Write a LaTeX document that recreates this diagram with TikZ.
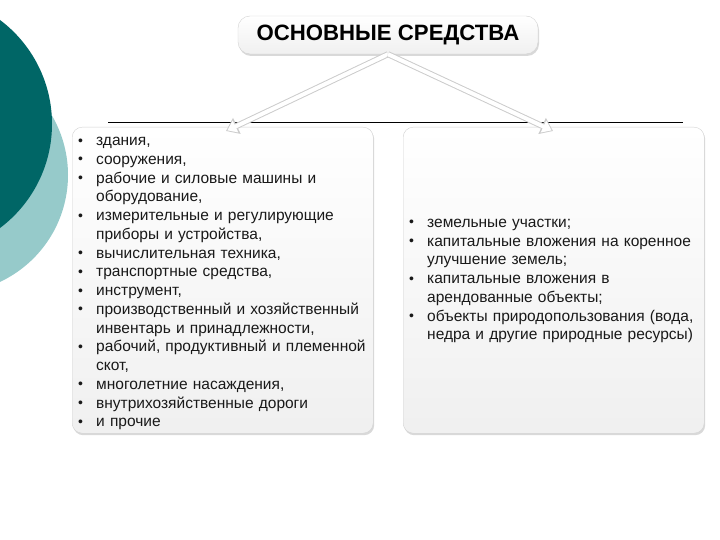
\documentclass[tikz,border=0pt]{standalone}
\usepackage{fontspec}
\setmainfont{Liberation Sans}
\usetikzlibrary{shadows,arrows.meta}
\newcommand{\itm}[1]{\hangindent=18pt\hangafter=1\noindent\makebox[18pt][l]{\raisebox{0.5pt}{\scalebox{0.9}{\textbullet}}}#1\par}
\newcommand{\brk}{\hfil\break}
\begin{document}
\begin{tikzpicture}[x=1pt,y=-1pt,
    box/.style={draw=gray!35, rounded corners=10pt, top color=white, bottom color=gray!12,
        drop shadow={opacity=0.3, shadow xshift=1pt, shadow yshift=-2pt}},
    listtext/.style={inner sep=0pt, align=left, text=black!90,
        font=\fontsize{15.5}{18.75}\selectfont},
    bigarrow/.style={draw=gray!40, line width=6pt, -{Triangle[length=12pt,width=17pt]},
        postaction={draw=white, line width=4pt, -{Triangle[length=9pt,width=12.5pt]}, shorten >=1.5pt}}]
    \useasboundingbox (0,0) rectangle (720,540);
    % circles at the left edge
    \fill[color={rgb,255:red,150;green,202;blue,202}] (-50,175) circle(118);
    \fill[color={rgb,255:red,0;green,102;blue,102}] (-78,124) circle(130);
    % line under the arrows
    \draw[black, line width=0.8pt] (108,122) -- (683,122);
    % boxes
    \node[box, minimum width=301pt, minimum height=306pt, anchor=north west] (leftbox) at (72,127) {};
    \node[box, minimum width=301pt, minimum height=306pt, anchor=north west] (rightbox) at (403,127) {};
    \node[box, rounded corners=12pt, minimum width=300pt, minimum height=38pt,
        font=\bfseries\fontsize{22.2}{24}\selectfont] (title) at (388,35) {ОСНОВНЫЕ СРЕДСТВА};
    % arrows
    \coordinate (lefttip) at (226,131);
    \coordinate (righttip) at (553,131);
    \draw[bigarrow] (title.south) -- (lefttip);
    \draw[bigarrow] (title.south) -- (righttip);
    % lists
    \node[listtext, text width=300pt, anchor=north west] (lefttext) at (78,137) {%
        \itm{здания,}
        \itm{сооружения,}
        \itm{рабочие и силовые машины и\brk оборудование,}
        \itm{измерительные и регулирующие\brk приборы и устройства,}
        \itm{вычислительная техника,}
        \itm{транспортные средства,}
        \itm{инструмент,}
        \itm{производственный и хозяйственный\brk инвентарь и принадлежности,}
        \itm{рабочий, продуктивный и племенной\brk скот,}
        \itm{многолетние насаждения,}
        \itm{внутрихозяйственные дороги}
        \itm{и прочие}};
    \node[listtext, text width=300pt, anchor=west] (righttext) at (409,281) {%
        \itm{земельные участки;}
        \itm{капитальные вложения на коренное\brk улучшение земель;}
        \itm{капитальные вложения в\brk арендованные объекты;}
        \itm{объекты природопользования (вода,\brk недра и другие природные ресурсы)}};
\end{tikzpicture}
\end{document}
